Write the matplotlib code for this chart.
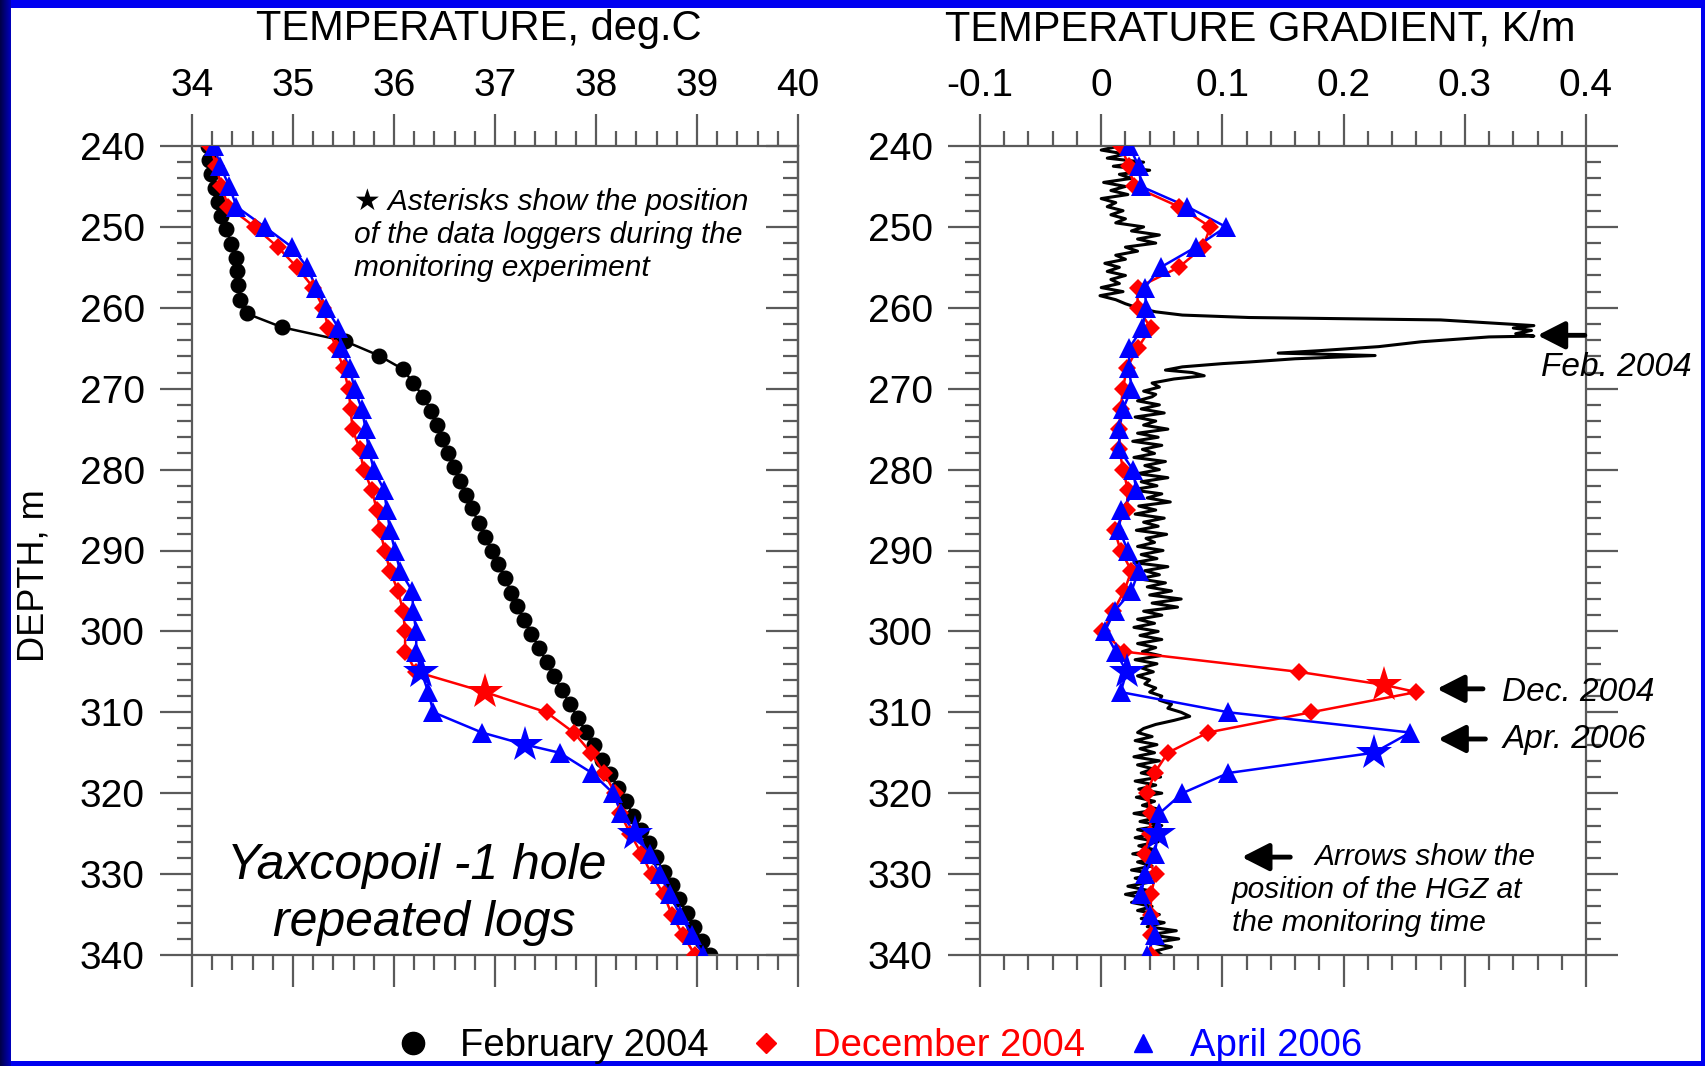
import matplotlib
matplotlib.use("Agg")
import matplotlib.pyplot as plt
import numpy as np
from matplotlib.ticker import MultipleLocator, FuncFormatter
from matplotlib.lines import Line2D
from matplotlib.patches import Rectangle
from matplotlib.colors import LinearSegmentedColormap

plt.rcParams['font.family'] = ['Liberation Sans', 'DejaVu Sans']
plt.rcParams['axes.unicode_minus'] = False

# ---- data ----
# February 2004 temperature log (black circles)
feb_depth = [240.0, 241.7, 243.4, 245.2, 246.9, 248.6, 250.3, 252.1, 253.8, 255.5,
             257.2, 259.0, 260.7, 262.4, 264.1, 265.9, 267.6, 269.3, 271.0, 272.8,
             274.5, 276.2, 277.9, 279.7, 281.4, 283.1, 284.8, 286.6, 288.3, 290.0,
             291.7, 293.4, 295.2, 296.9, 298.6, 300.3, 302.1, 303.8, 305.5, 307.2,
             309.0, 310.7, 312.4, 314.1, 315.9, 317.6, 319.3, 321.0, 322.8, 324.5,
             326.2, 327.9, 329.7, 331.4, 333.1, 334.8, 336.6, 338.3, 340.0]
feb_temp = [34.16, 34.17, 34.19, 34.23, 34.26, 34.29, 34.34, 34.39, 34.44, 34.45,
            34.46, 34.48, 34.54, 34.89, 35.51, 35.85, 36.09, 36.19, 36.29, 36.37,
            36.43, 36.48, 36.53, 36.59, 36.65, 36.71, 36.77, 36.84, 36.90, 36.97,
            37.03, 37.10, 37.16, 37.22, 37.29, 37.36, 37.44, 37.51, 37.58, 37.66,
            37.74, 37.82, 37.90, 37.98, 38.06, 38.14, 38.22, 38.30, 38.37, 38.45,
            38.52, 38.59, 38.67, 38.75, 38.82, 38.90, 38.97, 39.05, 39.13]

# repeated logs, 2.5 m spacing
log_depth = [240.0, 242.5, 245.0, 247.5, 250.0, 252.5, 255.0, 257.5, 260.0, 262.5,
             265.0, 267.5, 270.0, 272.5, 275.0, 277.5, 280.0, 282.5, 285.0, 287.5,
             290.0, 292.5, 295.0, 297.5, 300.0, 302.5, 305.0, 307.5, 310.0, 312.5,
             315.0, 317.5, 320.0, 322.5, 325.0, 327.5, 330.0, 332.5, 335.0, 337.5, 340.0]
dec_temp = [34.18, 34.24, 34.29, 34.36, 34.62, 34.85, 35.04, 35.20, 35.30, 35.35,
            35.43, 35.50, 35.55, 35.57, 35.59, 35.66, 35.70, 35.78, 35.83, 35.86,
            35.91, 35.96, 36.04, 36.09, 36.11, 36.11, 36.22, 36.90, 37.51, 37.78,
            37.95, 38.08, 38.19, 38.24, 38.34, 38.45, 38.55, 38.67, 38.75, 38.86, 38.98]
dec_temp_star = [307.5]

apr_temp_depth = [240.0, 242.5, 245.0, 247.5, 250.0, 252.5, 255.0, 257.5, 260.0, 262.5,
                  265.0, 267.5, 270.0, 272.5, 275.0, 277.5, 280.0, 282.5, 285.0, 287.5,
                  290.0, 292.5, 295.0, 297.5, 300.0, 302.5, 305.0, 307.5, 310.0, 312.5,
                  314.0, 315.0, 317.5, 320.0, 322.5, 325.0, 327.5, 330.0, 332.5, 335.0,
                  337.5, 340.0]
apr_temp = [34.22, 34.28, 34.37, 34.44, 34.72, 34.99, 35.14, 35.23, 35.33, 35.45,
            35.48, 35.56, 35.61, 35.68, 35.72, 35.75, 35.80, 35.90, 35.93, 35.96,
            36.01, 36.06, 36.18, 36.19, 36.22, 36.22, 36.27, 36.34, 36.39, 36.87,
            37.30, 37.64, 37.96, 38.17, 38.25, 38.39, 38.53, 38.63, 38.73, 38.83,
            38.95, 39.06]
apr_temp_star = [305.0, 314.0, 325.0]

dec_grad_depth = [240.0, 242.5, 245.0, 247.5, 250.0, 252.5, 255.0, 257.5, 260.0, 262.5,
                  265.0, 267.5, 270.0, 272.5, 275.0, 277.5, 280.0, 282.5, 285.0, 287.5,
                  290.0, 292.5, 295.0, 297.5, 300.0, 302.5, 305.0, 306.6, 307.5, 310.0,
                  312.5, 315.0, 317.5, 320.0, 322.5, 325.0, 327.5, 330.0, 332.5, 335.0,
                  337.5, 340.0]
dec_grad = [0.016, 0.023, 0.027, 0.064, 0.090, 0.084, 0.064, 0.030, 0.030, 0.041,
            0.030, 0.021, 0.018, 0.016, 0.015, 0.015, 0.018, 0.022, 0.021, 0.011,
            0.016, 0.025, 0.019, 0.010, 0.001, 0.019, 0.163, 0.233, 0.260, 0.173,
            0.088, 0.055, 0.044, 0.038, 0.041, 0.040, 0.036, 0.045, 0.041, 0.041,
            0.041, 0.041]
dec_grad_star = [306.6]

apr_grad = [0.023, 0.031, 0.033, 0.071, 0.103, 0.078, 0.049, 0.036, 0.037, 0.034,
            0.023, 0.023, 0.025, 0.018, 0.015, 0.015, 0.026, 0.029, 0.016, 0.015,
            0.022, 0.031, 0.025, 0.011, 0.003, 0.012, 0.021, 0.016, 0.105, 0.255,
            0.225, 0.105, 0.067, 0.048, 0.047, 0.044, 0.036, 0.033, 0.040, 0.044, 0.038]
apr_grad_star = [305.0, 315.0, 325.0]

# February 2004 gradient, continuous log (black trace)
feb_grad_depth = [
    240.0, 240.5, 241.0, 241.5, 242.0, 242.5, 243.0, 243.5, 244.0, 244.5,
    245.0, 245.5, 246.0, 246.5, 247.0, 247.5, 248.0, 248.5, 249.0, 249.5,
    250.0, 250.5, 251.0, 251.5, 252.0, 252.5, 253.0, 253.5, 254.0, 254.5,
    255.0, 255.5, 256.0, 256.5, 257.0, 257.5, 258.0, 258.5, 259.0, 259.5,
    260.0, 260.5, 260.9, 261.2, 261.5, 262.2, 262.5, 262.8, 263.2, 263.5,
    263.6, 264.2, 264.8, 265.3, 265.6, 265.9, 266.3, 266.7, 266.9, 267.3,
    267.7, 268.0, 268.4, 268.8, 269.3, 269.8, 270.3, 270.7,
    271.0, 271.5, 272.0, 272.5, 273.0, 273.5, 274.0, 274.5, 275.0, 275.5,
    276.0, 276.5, 277.0, 277.5, 278.0, 278.5, 279.0, 279.5, 280.0, 280.5,
    281.0, 281.5, 282.0, 282.5, 283.0, 283.5, 284.0, 284.5, 285.0, 285.5,
    286.0, 286.5, 287.0, 287.5, 288.0, 288.5, 289.0, 289.5, 290.0, 290.5,
    291.0, 291.5, 292.0, 292.5, 293.0, 293.5, 294.0, 294.5, 295.0, 295.5,
    296.0, 296.5, 297.0, 297.5, 298.0, 298.5, 299.0, 299.5, 300.0, 300.5,
    301.0, 301.5, 302.0, 302.5, 303.0, 303.5, 304.0, 304.5, 305.0, 305.5,
    306.0, 306.5, 307.0, 307.5, 308.0, 308.5, 309.0, 309.5, 310.0, 310.5,
    311.0, 311.5, 312.0, 312.5, 313.0, 313.5, 314.0, 314.5, 315.0, 315.5,
    316.0, 316.5, 317.0, 317.5, 318.0, 318.5, 319.0, 319.5, 320.0, 320.5,
    321.0, 321.5, 322.0, 322.5, 323.0, 323.5, 324.0, 324.5, 325.0, 325.5,
    326.0, 326.5, 327.0, 327.5, 328.0, 328.5, 329.0, 329.5, 330.0, 330.5,
    331.0, 331.5, 332.0, 332.5, 333.0, 333.5, 334.0, 334.5, 335.0, 335.5,
    336.0, 336.5, 337.0, 337.5, 338.0, 338.5, 339.0, 339.5, 340.0]
feb_grad = [
    0.015, 0.000, 0.020, 0.005, 0.035, 0.010, 0.040, 0.015, 0.025, 0.002,
    0.020, 0.008, 0.022, 0.000, 0.012, 0.005, 0.018, 0.008, 0.020, 0.012,
    0.035, 0.025, 0.048, 0.030, 0.045, 0.020, 0.030, 0.012, 0.020, 0.003,
    0.015, 0.005, 0.020, 0.008, 0.015, 0.000, 0.018, -0.001, 0.012, 0.020,
    0.030, 0.045, 0.067, 0.122, 0.280, 0.357, 0.340, 0.355, 0.342, 0.357,
    0.320, 0.264, 0.229, 0.180, 0.146, 0.226, 0.160, 0.122, 0.100, 0.067,
    0.053, 0.075, 0.085, 0.060, 0.042, 0.048, 0.035, 0.045,
    0.042, 0.030, 0.048, 0.033, 0.052, 0.028, 0.045, 0.035, 0.055, 0.030,
    0.047, 0.026, 0.050, 0.034, 0.044, 0.027, 0.053, 0.036, 0.048, 0.030,
    0.055, 0.033, 0.046, 0.025, 0.050, 0.038, 0.057, 0.031, 0.045, 0.028,
    0.052, 0.035, 0.047, 0.029, 0.054, 0.037, 0.044, 0.030, 0.051, 0.033,
    0.046, 0.027, 0.055, 0.036, 0.048, 0.031, 0.053, 0.038, 0.058, 0.040,
    0.066, 0.042, 0.063, 0.035, 0.050, 0.030, 0.044, 0.027, 0.047, 0.032,
    0.050, 0.030, 0.045, 0.034, 0.049, 0.028, 0.046, 0.033, 0.043, 0.030,
    0.040, 0.036, 0.045, 0.040, 0.050, 0.048, 0.058, 0.055, 0.066, 0.073,
    0.060, 0.045, 0.035, 0.030, 0.042, 0.028, 0.046, 0.032, 0.044, 0.027,
    0.048, 0.030, 0.043, 0.033, 0.049, 0.028, 0.045, 0.031, 0.050, 0.029,
    0.044, 0.034, 0.048, 0.027, 0.046, 0.032, 0.050, 0.030, 0.043, 0.028,
    0.047, 0.031, 0.044, 0.026, 0.046, 0.030, 0.042, 0.025, 0.045, 0.028,
    0.040, 0.022, 0.038, 0.020, 0.036, 0.025, 0.042, 0.030, 0.048, 0.033,
    0.052, 0.038, 0.062, 0.040, 0.064, 0.042, 0.058, 0.045, 0.050]

legend_labels = ['February 2004', 'December 2004', 'April 2006']
temp_ticks = [34, 35, 36, 37, 38, 39, 40]
grad_ticks = [-0.1, 0, 0.1, 0.2, 0.3, 0.4]

# ---- figure ----
W, H = 1706, 1066
fig = plt.figure(figsize=(W / 100, H / 100), dpi=100)
fig.patch.set_facecolor('#0000f0')

# dark gradient on left edge of the frame and white page
strip = fig.add_axes([0, 0, 11 / W, 1])
strip.imshow(np.linspace(0, 1, 11)[None, :], aspect='auto',
             cmap=LinearSegmentedColormap.from_list('edge', ['#00004a', '#0000b8']))
strip.axis('off')
fig.add_artist(Rectangle((11 / W, 5 / H), (1701 - 11) / W, (1058 - 5) / H,
                         transform=fig.transFigure, facecolor='white',
                         edgecolor='none', zorder=-5))

axc = '#5a5a5a'
bottom = 1 - 955 / H
height = (955 - 146) / H
axT = fig.add_axes([192 / W, bottom, 606 / W, height])
axG = fig.add_axes([980 / W, bottom, 606 / W, height])

RED = '#ff0000'
BLUE = '#0000ff'


def plot_series(ax, depth, vals, stars, color, marker, ms):
    depth = np.asarray(depth)
    vals = np.asarray(vals)
    st = np.isin(depth, stars)
    ax.plot(vals, depth, '-', color=color, lw=1.8, zorder=3)
    ax.plot(vals[~st], depth[~st], linestyle='none', marker=marker, ms=ms,
            color=color, mec=color, mew=0, zorder=4)
    ax.plot(vals[st], depth[st], linestyle='none', marker='*', ms=27,
            color=color, mec=color, mew=0, zorder=5)


# left panel: temperature
axT.plot(feb_temp, feb_depth, '-o', color='black', lw=1.8, ms=10.5, zorder=2)
plot_series(axT, log_depth, dec_temp, dec_temp_star, RED, 'D', 9)
plot_series(axT, apr_temp_depth, apr_temp, apr_temp_star, BLUE, '^', 14)

# right panel: gradient
axG.plot(feb_grad, feb_grad_depth, '-', color='black', lw=2.2, zorder=2)
plot_series(axG, dec_grad_depth, dec_grad, dec_grad_star, RED, 'D', 9)
plot_series(axG, log_depth, apr_grad, apr_grad_star, BLUE, '^', 14)

for ax in (axT, axG):
    ax.set_ylim(340, 240)
    ax.yaxis.set_major_locator(MultipleLocator(10))
    ax.yaxis.set_minor_locator(MultipleLocator(2))
    for s in ax.spines.values():
        s.set_color(axc)
        s.set_linewidth(1.6)
    ax.tick_params(axis='x', which='both', top=True, bottom=True, labeltop=True,
                   labelbottom=False, direction='out', color=axc, width=1.6,
                   labelsize=28, pad=7)
    ax.tick_params(axis='y', which='both', left=True, direction='out', color=axc,
                   width=1.6, labelsize=28, pad=11)
    ax.tick_params(which='major', length=23)
    ax.tick_params(which='minor', length=11)

axT.set_xlim(34, 40)
axT.set_xticks(temp_ticks)
axT.xaxis.set_minor_locator(MultipleLocator(0.2))
axT.tick_params(axis='y', right=False)
sec = axT.secondary_yaxis('right')
sec.yaxis.set_major_locator(MultipleLocator(10))
sec.yaxis.set_minor_locator(MultipleLocator(2))
sec.tick_params(which='both', direction='in', color=axc, width=1.6, labelright=False)
sec.tick_params(which='major', length=23)
sec.tick_params(which='minor', length=11)
sec.spines['right'].set_color(axc)
sec.spines['right'].set_linewidth(1.6)

axG.set_xlim(-0.1, 0.4)
axG.set_xticks(grad_ticks)
axG.xaxis.set_minor_locator(MultipleLocator(0.02))
axG.xaxis.set_major_formatter(FuncFormatter(lambda v, p: '0' if abs(v) < 1e-9 else f'{v:g}'))
axG.tick_params(axis='y', which='both', right=True, labelright=False)

# titles and axis label
fig.text(479 / W, 1 - 29 / H, 'TEMPERATURE, deg.C', ha='center', va='center', fontsize=30)
fig.text(1260 / W, 1 - 29 / H, 'TEMPERATURE GRADIENT, K/m', ha='center', va='center', fontsize=30)
fig.text(34 / W, 1 - 576 / H, 'DEPTH, m', ha='center', va='center', rotation=90, fontsize=26)

# annotations, left panel
note_kw = dict(fontsize=21.5, style='italic', ha='left', va='center')
axT.text(35.60, 246.9, '\u2605 Asterisks show the position', **note_kw)
axT.text(35.60, 251.0, 'of the data loggers during the', **note_kw)
axT.text(35.60, 255.1, 'monitoring experiment', **note_kw)
axT.text(36.22, 329.0, 'Yaxcopoil -1 hole', fontsize=36, style='italic', ha='center', va='center')
axT.text(36.30, 336.0, 'repeated logs', fontsize=36, style='italic', ha='center', va='center')

# annotations, right panel
arrow_kw = dict(arrowstyle='-|>,head_length=0.55,head_width=0.28', color='black',
                lw=3.5, shrinkA=0, shrinkB=0, mutation_scale=30)
for hx, tx, d in [(0.360, 0.399, 263.4), (0.277, 0.315, 307.1),
                  (0.278, 0.317, 313.3), (0.116, 0.156, 327.9)]:
    axG.annotate('', xy=(hx, d), xytext=(tx, d), arrowprops=arrow_kw,
                 annotation_clip=False, zorder=6)
lab_kw = dict(fontsize=24, style='italic', ha='left', va='center', clip_on=False)
axG.text(0.363, 267.4, 'Feb. 2004', **lab_kw)
axG.text(0.331, 307.5, 'Dec. 2004', **lab_kw)
axG.text(0.331, 313.4, 'Apr. 2006', **lab_kw)
axG.text(0.176, 327.9, 'Arrows show the', **note_kw)
axG.text(0.108, 332.0, 'position of the HGZ at', **note_kw)
axG.text(0.108, 336.0, 'the monitoring time', **note_kw)

# legend
handles = [Line2D([], [], ls='none', marker='o', ms=16, color='black'),
           Line2D([], [], ls='none', marker='D', ms=10, color=RED),
           Line2D([], [], ls='none', marker='^', ms=13, color=BLUE)]
fig.legend(handles, legend_labels, loc='center', bbox_to_anchor=(878 / W, 1 - 1046 / H),
           ncol=3, frameon=False, fontsize=27.5, handlelength=1.0, handletextpad=0.73,
           columnspacing=1.0, borderpad=0, labelcolor=['black', RED, BLUE])

fig.savefig('out.png', dpi=100, facecolor=fig.get_facecolor())
